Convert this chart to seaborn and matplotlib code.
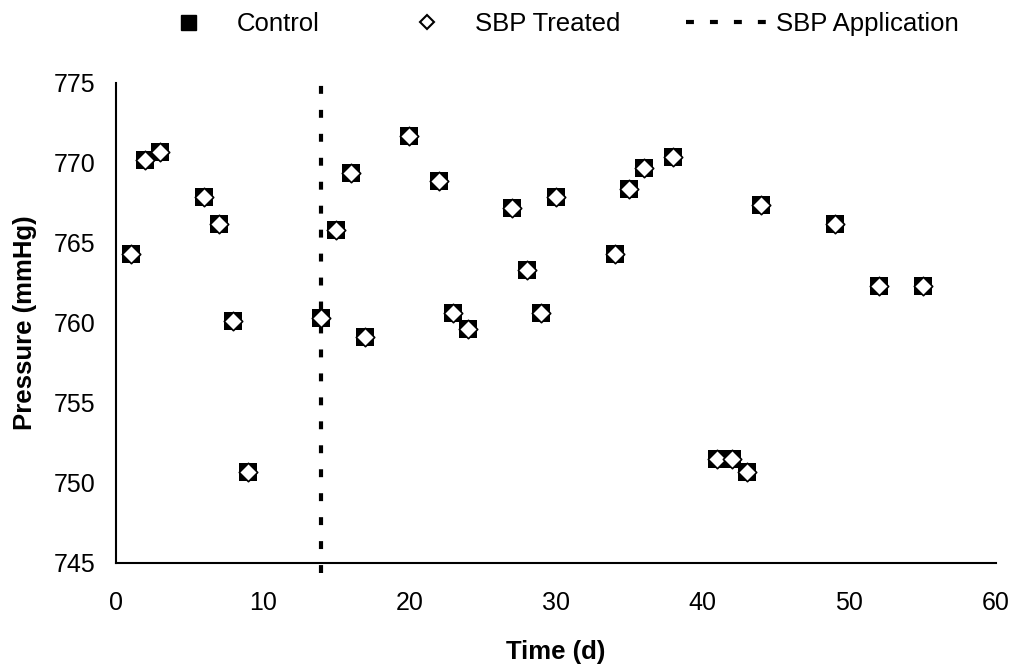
import matplotlib
matplotlib.use("Agg")
import matplotlib.pyplot as plt
from matplotlib.lines import Line2D
import seaborn as sns
import pandas as pd

# Barometric pressure readings by day of the trial
days = [1, 2, 3, 6, 7, 8, 9, 14, 15, 16, 17, 20, 22, 23, 24, 27, 28, 29, 30,
        34, 35, 36, 38, 41, 42, 43, 44, 49, 52, 55]
control_pressure = [764.3, 770.2, 770.7, 767.9, 766.2, 760.1, 750.7, 760.3,
                    765.8, 769.4, 759.1, 771.7, 768.9, 760.6, 759.6, 767.2,
                    763.3, 760.6, 767.9, 764.3, 768.4, 769.7, 770.4, 751.5,
                    751.5, 750.7, 767.4, 766.2, 762.3, 762.3]
treated_pressure = [764.3, 770.2, 770.7, 767.9, 766.2, 760.1, 750.7, 760.3,
                    765.8, 769.4, 759.1, 771.7, 768.9, 760.6, 759.6, 767.2,
                    763.3, 760.6, 767.9, 764.3, 768.4, 769.7, 770.4, 751.5,
                    751.5, 750.7, 767.4, 766.2, 762.3, 762.3]
sbp_day = 14

x_ticks = [0, 10, 20, 30, 40, 50, 60]
y_ticks = [745, 750, 755, 760, 765, 770, 775]
series_labels = ["Control", "SBP Treated", "SBP Application"]

sns.set_style("white")
plt.rcParams["font.family"] = ["Liberation Sans", "DejaVu Sans"]
plt.rcParams["text.color"] = "black"
plt.rcParams["axes.labelcolor"] = "black"

df = pd.DataFrame({"day": days, "control": control_pressure,
                   "treated": treated_pressure})

fig = plt.figure(figsize=(10.18, 6.64), dpi=100)
ax = fig.add_axes([116 / 1018, 1 - 563 / 664, 880 / 1018, 480 / 664])

# Application day marker, running a little past the plot frame
ax.axvline(sbp_day, ymin=-0.021, ymax=1.027, clip_on=False, color="black",
           lw=3.0, dashes=(1.9, 3.85), zorder=1)

sns.scatterplot(data=df, x="day", y="control", marker="s", s=185,
                color="black", edgecolor="black", linewidth=0, ax=ax,
                zorder=3, legend=False)
sns.scatterplot(data=df, x="day", y="treated", marker="D", s=88,
                color="white", edgecolor="black", linewidth=1.2, ax=ax,
                zorder=4, legend=False)

ax.set_xlim(0, 60)
ax.set_ylim(745, 775)
ax.set_xticks(x_ticks)
ax.set_yticks(y_ticks)
ax.set_xticklabels([str(t) for t in x_ticks])
ax.set_yticklabels([str(t) for t in y_ticks])

for side in ["top", "right"]:
    ax.spines[side].set_visible(False)
for side in ["left", "bottom"]:
    ax.spines[side].set_linewidth(1.5)
    ax.spines[side].set_color("black")

ax.tick_params(axis="both", direction="out", length=5, width=1.5,
               color="black", labelsize=18, labelcolor="black")
ax.tick_params(axis="x", pad=15)
ax.tick_params(axis="y", pad=10)

ax.set_xlabel("Time (d)", fontsize=18.5, fontweight="bold", labelpad=18,
              color="black")
ax.set_ylabel("Pressure (mmHg)", fontsize=18.5, fontweight="bold",
              labelpad=12, color="black")

handles = [
    Line2D([], [], marker="s", linestyle="none", markersize=10.8,
           markerfacecolor="black", markeredgecolor="black"),
    Line2D([], [], marker="D", linestyle="none", markersize=7.0,
           markerfacecolor="white", markeredgecolor="black",
           markeredgewidth=1.5),
    Line2D([], [], color="black", lw=3.0, dashes=(1.9, 3.85)),
]
fig.legend(handles, series_labels, loc="center",
           bbox_to_anchor=(553 / 1018, 1 - 24 / 664), ncol=3,
           frameon=False, fontsize=18.5, handlelength=3.2,
           handletextpad=0.3, columnspacing=2.55, borderpad=0,
           borderaxespad=0, labelcolor="black")

fig.savefig("out.png", dpi=100)
